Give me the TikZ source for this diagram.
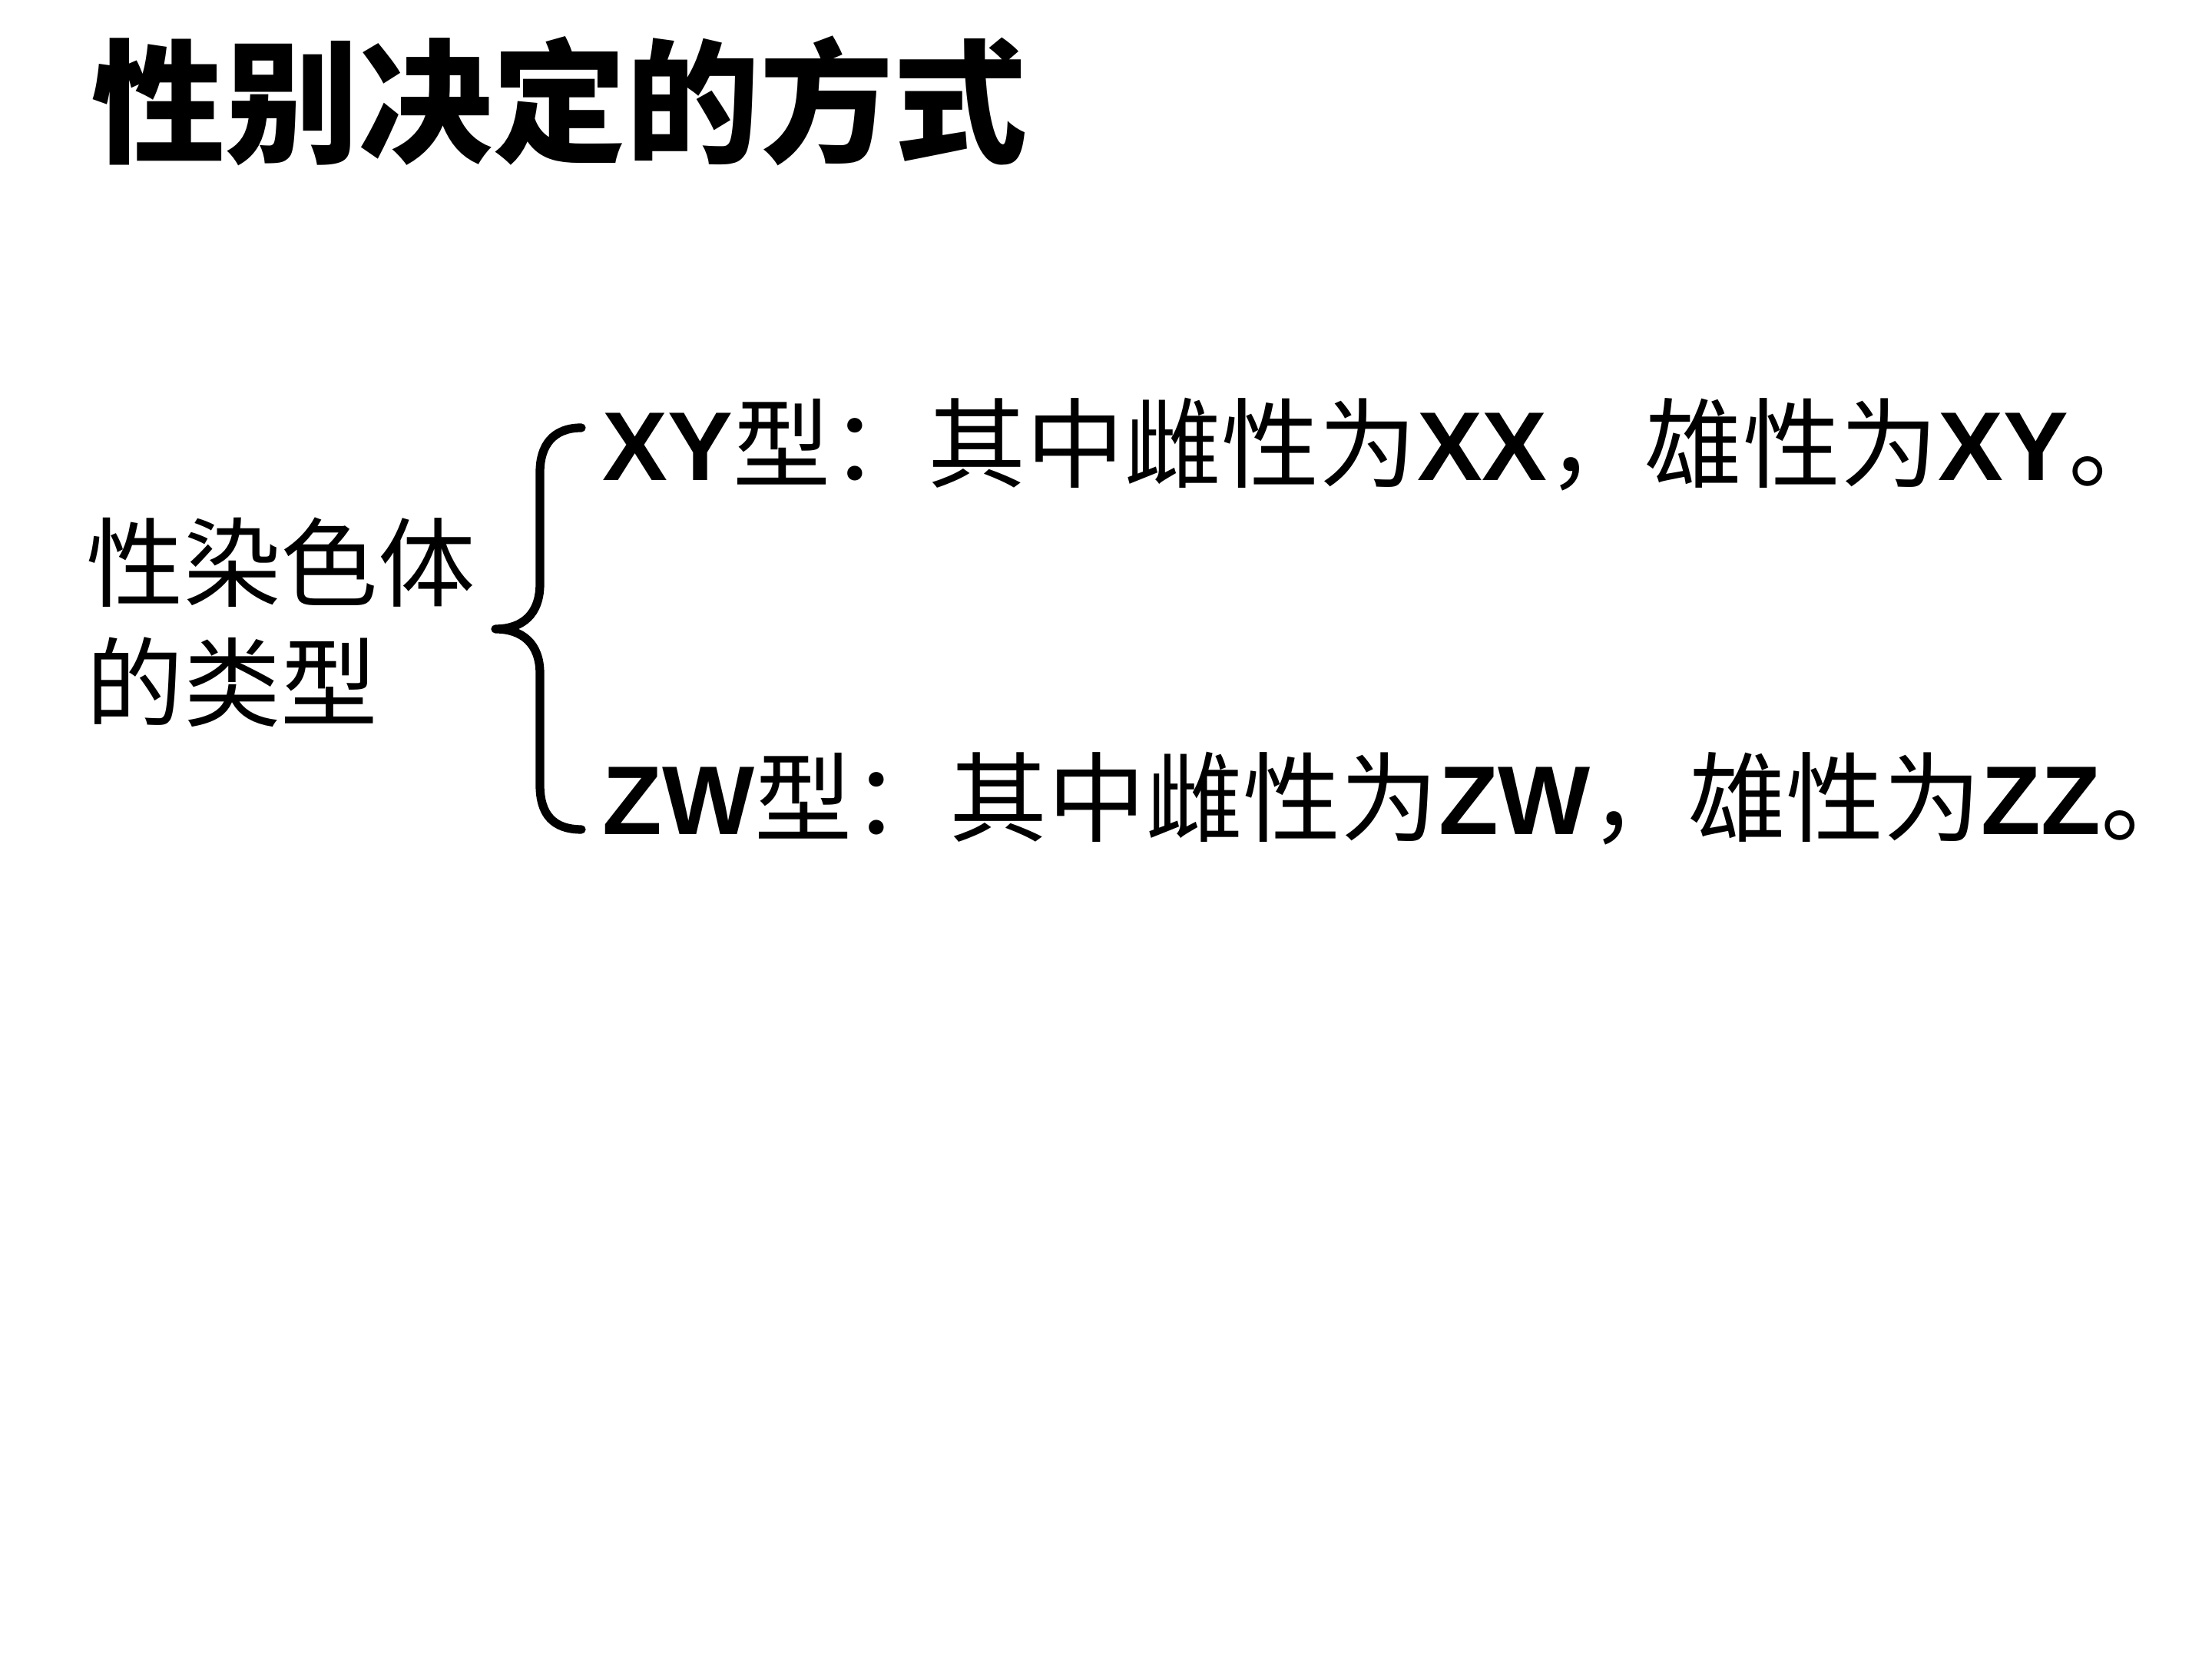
\documentclass[tikz,border=0pt]{standalone}
\usepackage{fontspec}
\setmainfont{Liberation Sans}
\newfontfamily\cjk{Noto Sans CJK SC}
\newcommand\latb[1]{{\normalfont\bfseries #1}}
\begin{document}
\begin{tikzpicture}[x=1cm,y=1cm,
  lbl/.style={anchor=base west, inner sep=0pt, font=\fontsize{36}{43}\selectfont\cjk},
  typeline/.style={anchor=base west, inner sep=0pt, font=\fontsize{36.2}{44}\selectfont\cjk},
  ttl/.style={anchor=base west, inner sep=0pt, font=\fontsize{49.5}{58}\selectfont\cjk\bfseries},
  bracestyle/.style={line width=3.2pt, line cap=round, line join=round}]
\useasboundingbox[fill=white] (0,0) rectangle (28.8,21.6);
\node[ttl] (title) at (1.19,19.61) {性别决定的方式};
\node[lbl] (type1) at (1.12,13.79) {性染色体};
\node[lbl] (type2) at (1.12,12.23) {的类型};
\coordinate (btop) at (7.57,16.03);
\coordinate (btip) at (6.45,13.41);
\coordinate (bbot) at (7.57,10.80);
\draw[bracestyle] (btop) .. controls (7.2,16.03) and (7.03,15.8) .. (7.03,15.45)
  -- (7.03,14.0) .. controls (7.03,13.6) and (6.8,13.41) .. (btip)
  .. controls (6.8,13.41) and (7.03,13.22) .. (7.03,12.83)
  -- (7.03,11.38) .. controls (7.03,11.0) and (7.2,10.80) .. (bbot);
\node[typeline] (xy) at (7.84,15.34) {\latb{XY}型：其中雌性为\latb{XX}，雄性为\latb{XY}。};
\node[typeline] (zw) at (7.84,10.73) {\latb{ZW}型：其中雌性为\latb{ZW}，雄性为\latb{ZZ}。};
\end{tikzpicture}
\end{document}
